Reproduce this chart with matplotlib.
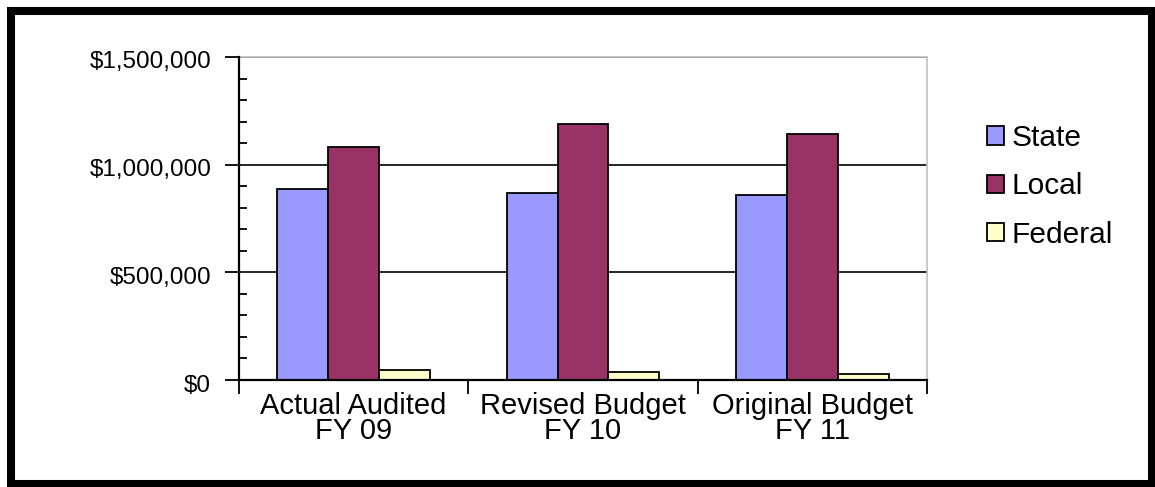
import matplotlib.pyplot as plt
import matplotlib.transforms as mtransforms
import numpy as np
from matplotlib.patches import Rectangle
from matplotlib.ticker import FuncFormatter, MultipleLocator, FixedLocator

plt.rcParams['font.family'] = ['Liberation Sans', 'DejaVu Sans']

# Revenue sources by fiscal year
categories = ['Actual Audited\nFY 09', 'Revised Budget\nFY 10', 'Original Budget\nFY 11']
state = [885000, 868000, 858000]
local = [1082000, 1190000, 1144000]
federal = [46000, 37000, 26000]

series = [('State', state, '#9999FF'),
          ('Local', local, '#993366'),
          ('Federal', federal, '#FFFFCC')]

fig = plt.figure(figsize=(11.55, 4.87), dpi=100)
ax = fig.add_axes([239 / 1155, 107 / 487, 688 / 1155, 323 / 487])

x = np.arange(len(categories)) + 0.5
width = 0.222
for i, (name, vals, color) in enumerate(series):
    ax.bar(x + (i - 1) * width, vals, width, color=color, edgecolor='black',
           linewidth=1.3, label=name, zorder=3)

ax.set_xlim(0, 3)
ax.set_ylim(0, 1500000)

# gridlines
ax.yaxis.set_major_locator(MultipleLocator(500000))
ax.yaxis.set_minor_locator(MultipleLocator(100000))
ax.yaxis.set_major_formatter(FuncFormatter(lambda v, p: '${:,.0f}'.format(v)))
ax.grid(axis='y', which='major', color='black', linewidth=1.2, zorder=1)

ax.xaxis.set_major_locator(FixedLocator([0, 1, 2, 3]))
ax.xaxis.set_major_formatter(FuncFormatter(lambda v, p: ''))
ax.xaxis.set_minor_locator(FixedLocator(list(x)))
ax.set_xticklabels(categories, minor=True)

ax.tick_params(axis='y', which='major', direction='out', length=10, width=1.3,
               labelsize=17.5, pad=10)
ax.tick_params(axis='y', which='minor', direction='in', length=6, width=1.3)
ax.tick_params(axis='x', which='major', direction='out', length=10, width=1.3)
ax.tick_params(axis='x', which='minor', length=0, labelsize=21, pad=9)
for lbl in ax.get_xticklabels(minor=True):
    lbl.set_linespacing(0.84)

# nudge the dollar labels a little below their ticks
shift = mtransforms.ScaledTranslation(0, -3 / 100, fig.dpi_scale_trans)
for lbl in ax.get_yticklabels():
    lbl.set_transform(lbl.get_transform() + shift)

for side in ['left', 'bottom']:
    ax.spines[side].set_linewidth(1.6)
    ax.spines[side].set_zorder(4)
for side in ['top', 'right']:
    ax.spines[side].set_color('#c0c0c0')
    ax.spines[side].set_linewidth(1.2)

leg = ax.legend(loc='upper left', bbox_to_anchor=(987 / 1155, 1 - 124 / 487),
                bbox_transform=fig.transFigure, frameon=False, fontsize=21.5,
                handlelength=0.57, handleheight=0.57, handletextpad=0.26,
                labelspacing=0.68, borderaxespad=0, borderpad=0)

# outer frame
fig.add_artist(Rectangle((11 / 1155, 3.5 / 487), 1140.5 / 1155, 472.5 / 487,
                         transform=fig.transFigure, fill=False,
                         edgecolor='black', linewidth=5.8))

plt.savefig('out.png', dpi=100)
